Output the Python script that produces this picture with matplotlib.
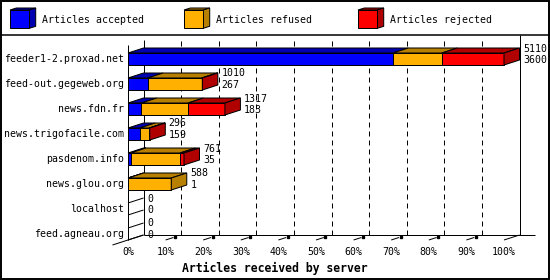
"""
plot.py -- innreport-style 3D stacked bar chart of articles received by server.
"""
import matplotlib

matplotlib.use("Agg")
import matplotlib.pyplot as plt
import numpy as np
from matplotlib.patches import Polygon, Rectangle

SERVERS = ["feeder1-2.proxad.net", "feed-out.gegeweb.org", "news.fdn.fr",
           "news.trigofacile.com", "pasdenom.info", "news.glou.org",
           "localhost", "feed.agneau.org"]
ACCEPTED = [3600, 267, 183, 159, 35, 1, 0, 0]
REFUSED = [665, 735, 633, 130, 671, 587, 0, 0]
REJECTED = [845, 8, 501, 7, 55, 0, 0, 0]
SERIES = ["Articles accepted", "Articles refused", "Articles rejected"]
TICKS = list(range(0, 101, 10))

FRONT = ["#0000ff", "#ffb000", "#ff0000"]
SHADE = ["#0000b0", "#b88000", "#b00000"]

# layout, in pixels of the 550x280 image
W, H = 550, 280
X0, PCT = 128, 3.76        # front 0% and px per percent
Y0, ROW = 59, 25           # first row centre and row spacing
DEPTH_X, DEPTH_Y, HALF = 15.5, 5, 6
LW = 0.72
FONT = "DejaVu Sans Mono"

plt.rcParams["font.family"] = FONT
plt.rcParams["font.size"] = 7.1


def main():
    acc = np.array(ACCEPTED, float)
    ref = np.array(REFUSED, float)
    rej = np.array(REJECTED, float)
    total = acc + ref + rej
    vmax = total.max()
    segs = np.vstack([acc, ref, rej]) / vmax * 100

    fig = plt.figure(figsize=(W / 100, H / 100), dpi=100)
    ax = fig.add_axes([0, 0, 1, 1])
    ax.set_xlim(-X0 / PCT, (W - X0) / PCT)
    ax.set_ylim((H - Y0) / ROW, -Y0 / ROW)
    ax.axis("off")

    dx, dy, hh = DEPTH_X / PCT, DEPTH_Y / ROW, HALF / ROW
    n = len(SERVERS)
    rows = np.arange(n)
    floor_f = rows[-1] + hh
    floor_b = floor_f - dy
    top_b = rows[0] - 0.76
    top_f = top_b + dy
    k = dict(color="black", lw=LW, solid_capstyle="butt")

    # back-wall grid
    for p in TICKS[1:-1]:
        ax.plot([p + dx, p + dx], [floor_b, top_b], color="black", lw=LW,
                dashes=(5, 4), zorder=1)
    # walls and floor
    ax.plot([dx, dx], [floor_b, top_b], **k)
    ax.plot([0, 0], [floor_f, top_f], **k)
    ax.plot([100 + dx] * 2, [floor_b, top_b - 0.2], **k)
    ax.plot([dx, 100 + 2 * dx], [floor_b, floor_b], **k)
    ax.plot([-dx, dx], [floor_f + dy, floor_b], **k)
    ax.plot([100, 100 + dx], [floor_f, floor_b], **k)
    for p in TICKS:
        if 0 < p < 100:
            ax.plot([p, p + 0.5 * dx], [floor_f, floor_f - 0.5 * dy], **k)
            ax.plot(p + 0.6 * dx, floor_f - 0.6 * dy, "s", ms=2.0,
                    color="black")
        ax.text(p, floor_f + 12 / ROW, f"{p}%", ha="center", va="center")

    # bars
    for i in rows:
        yt, yb = i - hh, i + hh
        x0 = 0.0
        last = None
        for j in range(3):
            w = segs[j, i]
            if w <= 0:
                continue
            x1 = x0 + w
            ax.add_patch(Rectangle((x0, yt), w, 2 * hh, facecolor=FRONT[j],
                                   edgecolor="black", lw=LW, zorder=3))
            ax.add_patch(Polygon([(x0, yt), (x1, yt), (x1 + dx, yt - dy),
                                  (x0 + dx, yt - dy)], closed=True,
                                 facecolor=SHADE[j], edgecolor="black",
                                 lw=LW, zorder=3))
            last = j
            x0 = x1
        if last is None:
            ax.plot([0, dx], [yt, yt - dy], **k)
            ax.plot([0, dx], [yb, yb - dy], **k)
        else:
            ax.add_patch(Polygon([(x0, yt), (x0 + dx, yt - dy),
                                  (x0 + dx, yb - dy), (x0, yb)], closed=True,
                                 facecolor=SHADE[last], edgecolor="black",
                                 lw=LW, zorder=3))
        lx = x0 + dx + 3.5 / PCT
        ax.text(lx, i - 10.5 / ROW, f"{int(total[i])}", ha="left", va="center")
        ax.text(lx, i + 1 / ROW, f"{int(acc[i])}", ha="left", va="center")
        ax.text(-4 / PCT, i, SERVERS[i], ha="right", va="center")

    # frame, legend separator and legend (pixel overlay)
    ov = fig.add_axes([0, 0, 1, 1], facecolor="none")
    ov.set_xlim(0, W)
    ov.set_ylim(H, 0)
    ov.axis("off")
    ov.add_patch(Rectangle((0.8, 0.8), W - 1.6, H - 1.6, fill=False,
                           edgecolor="black", lw=1.4))
    ov.plot([0, W], [34.7, 34.7], color="black", lw=1.1)
    for s, name in enumerate(SERIES):
        bx = 10 + s * 174
        ov.add_patch(Polygon([(bx, 10), (bx + 6.4, 8), (bx + 25.7, 8),
                              (bx + 19.3, 10)], closed=True,
                             facecolor=SHADE[s], edgecolor="black", lw=LW))
        ov.add_patch(Polygon([(bx + 19.3, 10), (bx + 25.7, 8),
                              (bx + 25.7, 26.3), (bx + 19.3, 28.3)],
                             closed=True, facecolor=SHADE[s],
                             edgecolor="black", lw=LW))
        ov.add_patch(Rectangle((bx, 10), 19.3, 18.3, facecolor=FRONT[s],
                               edgecolor="black", lw=LW))
        ov.text(bx + 32.3, 20, name, ha="left", va="center")

    fig.text(0.5, 1 - 268 / H, "Articles received by server", ha="center",
             va="center", fontsize=8.3, fontweight="bold")

    fig.savefig("out.png", dpi=100)


if __name__ == "__main__":
    main()
